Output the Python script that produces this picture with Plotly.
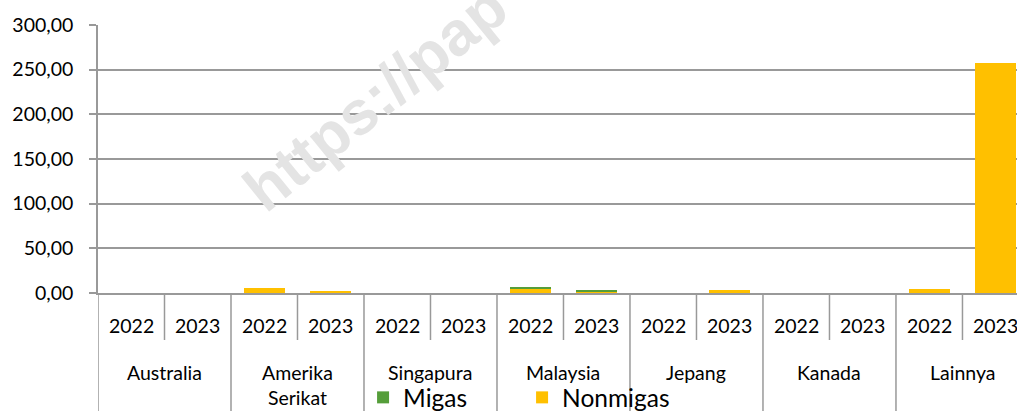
import plotly.graph_objects as go

countries = ["Australia", "Amerika<br>Serikat", "Singapura", "Malaysia", "Jepang", "Kanada", "Lainnya"]
years = ["2022", "2023"]
migas = [0, 0, 0, 0, 0, 0, 1.1, 2.2, 0, 0, 0, 0, 0, 0]
nonmigas = [0, 0, 5.8, 1.8, 0, 0, 4.8, 1.4, 0, 3.7, 0, 0, 4.5, 257.2]
y_ticks = [0, 50, 100, 150, 200, 250, 300]

FONT = "Lato"
GRAY = "#999999"
n = len(countries) * len(years)
xs = list(range(n))

fig = go.Figure()
fig.add_trace(go.Bar(x=xs, y=nonmigas, name="Nonmigas", marker=dict(color="#FFC000", line=dict(width=0)), width=0.61))
fig.add_trace(go.Bar(x=xs, y=migas, name="Migas", marker=dict(color="#559E3A", line=dict(width=0)), width=0.61))

shapes = []
xmax = 13.32
for k in range(n + 1):
    xb = k - 0.5
    if xb > xmax:
        continue
    y1 = -118 / 268 if k % 2 == 0 else -47 / 268
    shapes.append(dict(type="line", xref="x", yref="paper", x0=xb, x1=xb, y0=0, y1=y1,
                       line=dict(color=GRAY, width=1.5), layer="above"))

annotations = []
for i in xs:
    annotations.append(dict(x=i, y=0, xref="x", yref="paper", text=years[i % 2], showarrow=False,
                            yanchor="middle", yshift=-32, font=dict(family=FONT, size=19.5, color="#000")))
for c, name in enumerate(countries):
    annotations.append(dict(x=2 * c + 0.5, y=0, xref="x", yref="paper", text=name, showarrow=False,
                            yanchor="top", yshift=-66, font=dict(family=FONT, size=19.5, color="#000")))
annotations.append(dict(x=0.3025, y=0.728, xref="paper", yref="paper", text="<b>https://pap</b>",
                        showarrow=False, textangle=-39, xanchor="center", yanchor="middle",
                        font=dict(family="Liberation Sans", size=62, color="#e4e4e4")))

fig.update_layout(
    width=1017, height=411,
    margin=dict(l=98, r=0, t=25, b=118),
    paper_bgcolor="white", plot_bgcolor="white",
    barmode="stack",
    separators=",.",
    showlegend=True,
    legend=dict(orientation="h", xref="container", yref="container", x=0.357, xanchor="left",
                y=0.033, yanchor="middle",
                traceorder="reversed", font=dict(family=FONT, size=24.5, color="#000"),
                entrywidth=114, entrywidthmode="pixels", bgcolor="rgba(0,0,0,0)"),
    xaxis=dict(range=[-0.5, xmax], showticklabels=False, showgrid=False, zeroline=False,
               showline=True, linecolor=GRAY, linewidth=1.5, ticks=""),
    yaxis=dict(range=[0, 300], tickvals=y_ticks, tickformat=".2f", showgrid=True, gridcolor=GRAY,
               gridwidth=1.5, zeroline=False, showline=True, linecolor=GRAY, linewidth=1.5,
               ticks="outside", ticklen=7, tickcolor=GRAY, tickwidth=1.5, ticklabelstandoff=12,
               tickfont=dict(family=FONT, size=19.5, color="#000")),
    shapes=shapes,
    annotations=annotations,
)

fig.write_html("out.html", config={"displayModeBar": False},
               post_script="document.body.style.margin='0';document.body.style.overflow='hidden';")
